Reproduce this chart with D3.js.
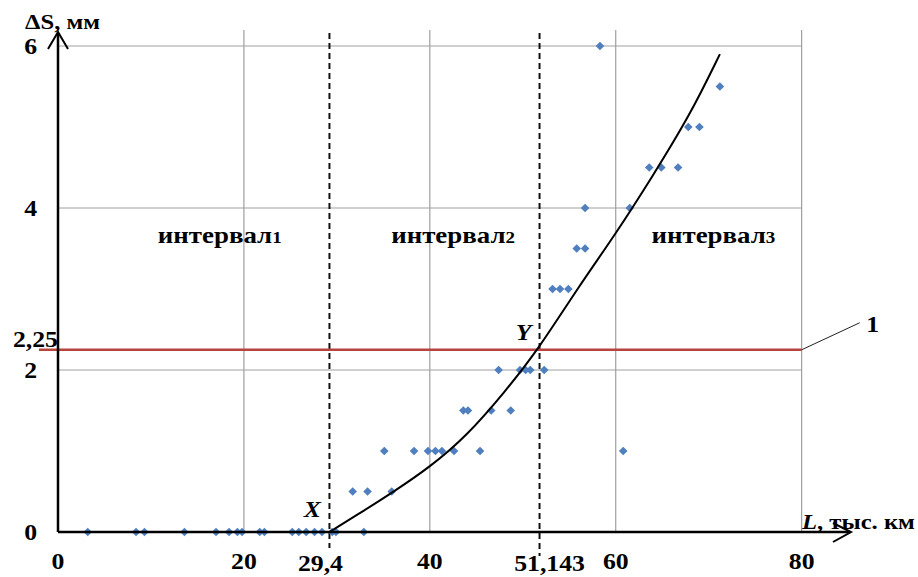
<!DOCTYPE html>
<html><head><meta charset="utf-8">
<script src="https://cdn.jsdelivr.net/npm/d3@7"></script>
<style>
body{margin:0;background:#fff}
text{font-family:"Liberation Serif","Times New Roman",serif;font-weight:bold;fill:#000}
</style>
</head><body>
<svg id="c" width="918" height="577"></svg>
<script>
// ---- data ----
const xTicks = [0, 20, 40, 60, 80];
const yTicks = [0, 2, 4, 6];
const pointsL = [3.2, 8.4, 9.3, 13.6, 17.0, 18.4, 19.3, 19.8, 21.7, 22.2, 25.2, 25.9, 26.7, 27.6, 28.4, 29.5, 29.9, 32.9,
  31.7, 33.3, 35.9,
  35.1, 38.3, 39.8, 40.6, 41.3, 42.6, 45.4, 60.8,
  43.6, 44.1, 46.6, 48.7,
  47.4, 49.7, 50.3, 50.8, 52.3,
  53.2, 54.0, 54.9,
  55.8, 56.7,
  56.7, 61.5,
  63.6, 64.9, 66.7,
  67.8, 69.0,
  71.2,
  58.3];
const pointsS = [0, 0, 0, 0, 0, 0, 0, 0, 0, 0, 0, 0, 0, 0, 0, 0, 0, 0,
  0.5, 0.5, 0.5,
  1, 1, 1, 1, 1, 1, 1, 1,
  1.5, 1.5, 1.5, 1.5,
  2, 2, 2, 2, 2,
  3, 3, 3,
  3.5, 3.5,
  4, 4,
  4.5, 4.5, 4.5,
  5, 5,
  5.5,
  6];
const curveL = [29.2, 33, 36, 40, 44, 48, 51.7, 56, 60, 64, 68, 71.2];
const curveS = [0, 0.27, 0.49, 0.8, 1.19, 1.72, 2.26, 3.03, 3.68, 4.4, 5.15, 5.9];
const thresholdS = 2.25;
const thresholdLabel = "2,25";
const boundL = [29.2, 51.8];
const boundLabels = ["29,4", "51,143"];
const intervalWords = ["интервал", "интервал", "интервал"];
const intervalNums = ["1", "2", "3"];
const intervalL = [17.4, 42.5, 70.5];
const intervalS = 3.57;
const pointNames = ["X", "Y"];
const pointNameL = [29.2, 51.7];
const pointNameS = [0, 2.25];

// ---- drawing ----
const svg = d3.select("#c");
const x = d3.scaleLinear().domain([0, 80]).range([58, 801.7]);
const y = d3.scaleLinear().domain([0, 6]).range([532, 46]);
const SX = 1.12;

function txt(px, py, str, size, anchor, italic) {
  const t = svg.append("text")
    .attr("transform", `translate(${px},${py}) scale(${SX},1)`)
    .attr("text-anchor", anchor || "middle")
    .style("font-size", size + "px")
    .text(str);
  if (italic) t.style("font-style", "italic");
  return t;
}

// grid
svg.append("g").selectAll("line").data(xTicks.filter(d => d > 0)).join("line")
  .attr("x1", d => x(d)).attr("x2", d => x(d))
  .attr("y1", y(6) - 16).attr("y2", y(0))
  .attr("stroke", "#8c8c8c").attr("stroke-width", 1);
svg.append("g").selectAll("line").data(yTicks.filter(d => d > 0)).join("line")
  .attr("x1", x(0)).attr("x2", x(80))
  .attr("y1", d => y(d)).attr("y2", d => y(d))
  .attr("stroke", "#a0a0a0").attr("stroke-width", 1);

// dashed bounds
svg.append("g").selectAll("line").data(boundL).join("line")
  .attr("x1", d => x(d)).attr("x2", d => x(d))
  .attr("y1", y(6) - 13).attr("y2", (d, i) => y(0) + (i ? 24 : 16))
  .attr("stroke", "#111").attr("stroke-width", 2).attr("stroke-dasharray", "6,4");

// threshold line
svg.append("line")
  .attr("x1", x(0) - 19).attr("x2", x(80))
  .attr("y1", y(thresholdS)).attr("y2", y(thresholdS))
  .attr("stroke", "#b8433f").attr("stroke-width", 2.5);
svg.append("line")
  .attr("x1", x(80)).attr("y1", y(thresholdS))
  .attr("x2", x(80) + 58).attr("y2", y(thresholdS) - 27)
  .attr("stroke", "#222").attr("stroke-width", 1);
txt(x(80) + 71, y(thresholdS) - 18, "1", 23, "middle");

// points
const r = 4.3;
svg.append("g").selectAll("path").data(pointsL.map((d, i) => [d, pointsS[i]])).join("path")
  .attr("d", `M0,${-r}L${r},0L0,${r}L${-r},0Z`)
  .attr("transform", d => `translate(${x(d[0])},${y(d[1])})`)
  .attr("fill", "#4f7fbf");

// trend curve
const cdata = curveL.map((d, i) => [d, curveS[i]]);
svg.append("path").datum(cdata)
  .attr("d", d3.line().x(d => x(d[0])).y(d => y(d[1])).curve(d3.curveBasis))
  .attr("fill", "none").attr("stroke", "#000").attr("stroke-width", 2);

// axes
svg.append("line").attr("x1", x(0)).attr("x2", x(0)).attr("y1", y(0)).attr("y2", 33)
  .attr("stroke", "#000").attr("stroke-width", 2.5);
svg.append("path").attr("d", `M${x(0) - 10},49L${x(0)},32L${x(0) + 10},49`)
  .attr("fill", "none").attr("stroke", "#000").attr("stroke-width", 2);
svg.append("line").attr("x1", x(0)).attr("x2", 850).attr("y1", y(0)).attr("y2", y(0))
  .attr("stroke", "#000").attr("stroke-width", 2.5);
svg.append("path").attr("d", `M833,${y(0) - 9}L851,${y(0)}L833,${y(0) + 10}`)
  .attr("fill", "none").attr("stroke", "#000").attr("stroke-width", 2);

// tick labels
xTicks.forEach(d => txt(x(d), 569, String(d), 23, "middle"));
yTicks.forEach(d => txt(37, y(d) + 8, String(d), 23, "end"));
txt(58, y(thresholdS) - 3, thresholdLabel, 23, "end");
boundL.forEach((d, i) => txt(x(d) + (i ? 10 : -9), 571, boundLabels[i], 23, "middle"));

// axis titles
const yt = txt(25, 29, "", 22, "start");
yt.append("tspan").text("ΔS, мм");
const xt = txt(802, 529, "", 22, "start");
xt.append("tspan").style("font-style", "italic").text("L");
xt.append("tspan").text(", тыс. км");

// interval labels
intervalWords.forEach((w, i) => {
  const t = txt(x(intervalL[i]), y(intervalS), "", 24, "middle");
  t.append("tspan").text(w);
  t.append("tspan").style("font-size", "17px").text(intervalNums[i]);
});

// point names
pointNames.forEach((n, i) => {
  txt(x(pointNameL[i]) - (i ? 15 : 17), y(pointNameS[i]) - (i ? 10 : 15), n, 23, "middle", true);
});
</script>
</body></html>
